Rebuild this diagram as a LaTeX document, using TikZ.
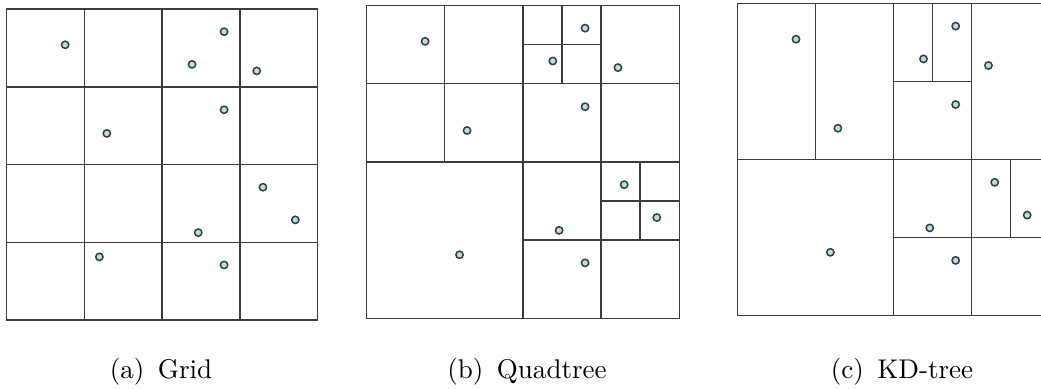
\documentclass[tikz,border=0pt]{standalone}
\usepackage{tikz}
\definecolor{ptfill}{HTML}{B2E2E2}
\definecolor{ptline}{HTML}{3A3A3A}
\definecolor{cellgray}{HTML}{3C3C3C}

% the same eleven samples in every panel (unit square)
\newcommand{\samplepoints}[1]{%
  \node[pt] (#1-p1)  at (0.188,0.885) {};
  \node[pt] (#1-p2)  at (0.699,0.927) {};
  \node[pt] (#1-p3)  at (0.596,0.822) {};
  \node[pt] (#1-p4)  at (0.804,0.801) {};
  \node[pt] (#1-p5)  at (0.699,0.676) {};
  \node[pt] (#1-p6)  at (0.322,0.600) {};
  \node[pt] (#1-p7)  at (0.824,0.427) {};
  \node[pt] (#1-p8)  at (0.928,0.322) {};
  \node[pt] (#1-p9)  at (0.616,0.281) {};
  \node[pt] (#1-p10) at (0.298,0.203) {};
  \node[pt] (#1-p11) at (0.699,0.177) {};
}

\begin{document}
\begin{tikzpicture}[x=0.013cm,y=0.013cm,
  pt/.style={circle, draw=ptline, fill=ptfill, line width=0.55pt, inner sep=0pt, minimum size=0.95mm},
  cell/.style={draw=cellgray, line width=0.55pt},
  subcap/.style={anchor=base, font=\normalsize}]
  \useasboundingbox (0,0) rectangle (1041,389);
  \clip (0,0) rectangle (1041,389);

  % (a) uniform grid
  \begin{scope}[shift={(6.7,69)}, scale=311]
    \draw[cell] (0,0) rectangle (1,1);
    \foreach \t in {0.25,0.5,0.75} {
      \draw[cell] (\t,0) -- (\t,1);
      \draw[cell] (0,\t) -- (1,\t);
    }
    \samplepoints{a}
  \end{scope}

  % (b) quadtree
  \begin{scope}[shift={(366.3,70.7)}, scale=313]
    \draw[cell] (0,0) rectangle (1,1);
    \draw[cell] (0.5,0) -- (0.5,1);
    \draw[cell] (0,0.5) -- (1,0.5);
    \draw[cell] (0,0.75) -- (1,0.75);
    \draw[cell] (0.25,0.5) -- (0.25,1);
    \draw[cell] (0.75,0) -- (0.75,1);
    \draw[cell] (0.625,0.75) -- (0.625,1);
    \draw[cell] (0.5,0.875) -- (0.75,0.875);
    \draw[cell] (0.5,0.25) -- (1,0.25);
    \draw[cell] (0.875,0.25) -- (0.875,0.5);
    \draw[cell] (0.75,0.375) -- (1,0.375);
    \samplepoints{b}
  \end{scope}

  % (c) kd-tree
  \begin{scope}[shift={(737.3,73.3)}, scale=312.4]
    \draw[cell] (0,0) rectangle (1,1);
    \draw[cell] (0,0.5) -- (1,0.5);
    \draw[cell] (0.5,0) -- (0.5,1);
    \draw[cell] (0.25,0.5) -- (0.25,1);
    \draw[cell] (0.75,0) -- (0.75,1);
    \draw[cell] (0.5,0.75) -- (0.75,0.75);
    \draw[cell] (0.625,0.75) -- (0.625,1);
    \draw[cell] (0.5,0.25) -- (1,0.25);
    \draw[cell] (0.875,0.25) -- (0.875,0.5);
    \samplepoints{c}
  \end{scope}

  \node[subcap] (cap-a) at (161,10) {(a)\enspace Grid};
  \node[subcap] (cap-b) at (527,10) {(b)\enspace Quadtree};
  \node[subcap] (cap-c) at (902,10) {(c)\enspace KD-tree};
\end{tikzpicture}
\end{document}
